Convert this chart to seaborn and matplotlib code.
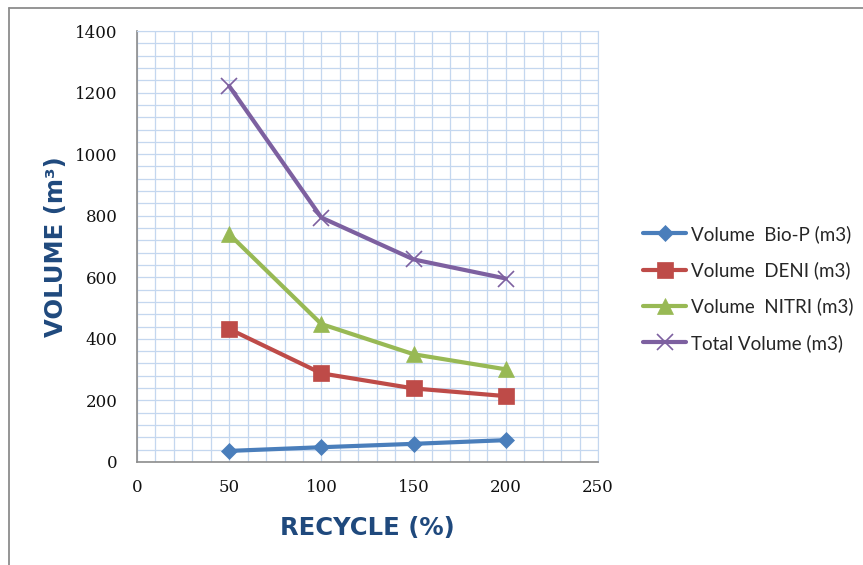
import matplotlib
matplotlib.use("Agg")
import matplotlib.pyplot as plt
from matplotlib.lines import Line2D
from matplotlib.ticker import MultipleLocator
import pandas as pd
import seaborn as sns

# Recycle ratio (%) and reactor volumes (m3)
recycle = [50, 100, 150, 200]
vol_biop = [36, 48, 59, 71]
vol_deni = [432, 288, 239, 214]
vol_nitri = [740, 448, 350, 301]
vol_total = [1221, 794, 658, 596]

series_names = ["Volume  Bio-P (m3)", "Volume  DENI (m3)",
                "Volume  NITRI (m3)", "Total Volume (m3)"]
series_values = [vol_biop, vol_deni, vol_nitri, vol_total]
colors = ["#4A7EBB", "#BE4B48", "#98B954", "#7D60A0"]
markers = ["D", "s", "^", "x"]
marker_sizes = [8, 11, 11, 11]

x_ticks = [0, 50, 100, 150, 200, 250]
y_ticks = [0, 200, 400, 600, 800, 1000, 1200, 1400]

sns.set_style("white")

fig = plt.figure(figsize=(8.63, 5.65), dpi=100)
ax = fig.add_axes([137 / 863, 1 - 462 / 565, (598 - 137) / 863, (462 - 31) / 565])

# Outer chart frame
fig.add_artist(Line2D([9 / 863, 9 / 863], [0, 1 - 8 / 565], color="#8C8C8C", lw=1.3))
fig.add_artist(Line2D([9 / 863, 1], [1 - 8 / 565, 1 - 8 / 565], color="#8C8C8C", lw=1.3))

for name, vals, c, m, ms in zip(series_names, series_values, colors, markers, marker_sizes):
    df = pd.DataFrame({"recycle": recycle, "volume": vals})
    sns.lineplot(data=df, x="recycle", y="volume", ax=ax, color=c, lw=3,
                 marker=m, markersize=ms, markeredgecolor=c,
                 markeredgewidth=1.2 if m == "x" else 0.5, label=name, zorder=3)

ax.set_xlim(0, 250)
ax.set_ylim(0, 1400)
ax.set_xticks(x_ticks)
ax.set_yticks(y_ticks)
ax.xaxis.set_minor_locator(MultipleLocator(10))
ax.yaxis.set_minor_locator(MultipleLocator(40))
ax.grid(True, which="both", color="#C4D7EF", lw=0.9)
ax.set_axisbelow(True)

for side in ["top", "right"]:
    ax.spines[side].set_color("#C4D7EF")
for side in ["left", "bottom"]:
    ax.spines[side].set_color("#8C8C8C")
    ax.spines[side].set_linewidth(1.2)

ax.tick_params(axis="both", which="both", length=0)
ax.tick_params(axis="y", pad=14)
ax.tick_params(axis="x", pad=12)
for lbl in ax.get_xticklabels() + ax.get_yticklabels():
    lbl.set_fontfamily("DejaVu Serif")
    lbl.set_fontsize(12)
    lbl.set_color("#111111")

ax.set_xlabel("RECYCLE (%)", fontsize=17.5, fontweight="bold", color="#1F497D",
              family="DejaVu Sans", labelpad=15)
ax.set_ylabel("VOLUME (m³)", fontsize=17.5, fontweight="bold", color="#1F497D",
              family="DejaVu Sans", labelpad=5)

leg = ax.legend(loc="upper left", bbox_to_anchor=(643 / 863, 1 - 225 / 565),
                bbox_transform=fig.transFigure, frameon=False, borderpad=0,
                borderaxespad=0, prop={"family": "Lato", "size": 13.5},
                handlelength=2.3, handletextpad=0.25, labelspacing=0.98)

fig.savefig("out.png", dpi=100, facecolor="white")
